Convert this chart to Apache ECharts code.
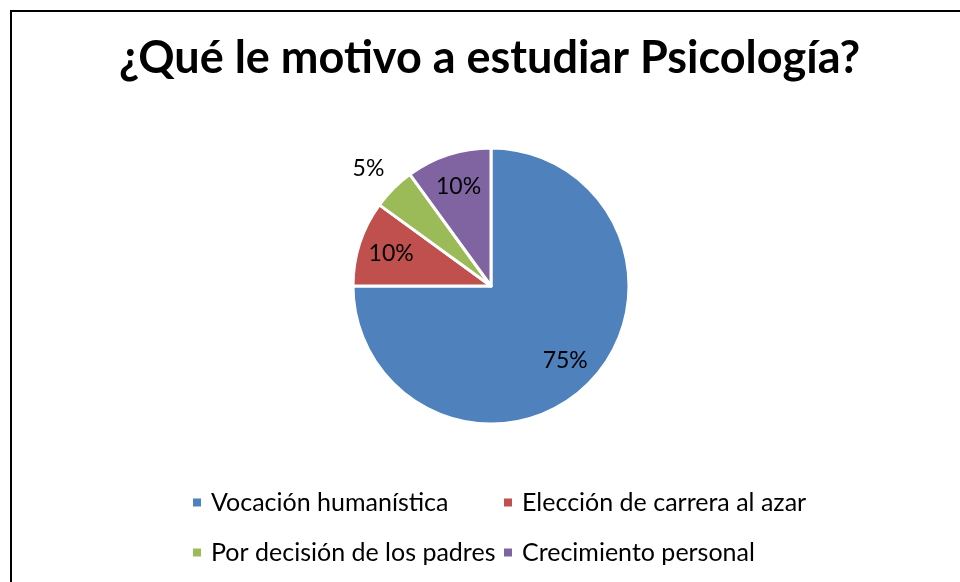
<!DOCTYPE html>
<html><head><meta charset="utf-8">
<script src="https://cdn.jsdelivr.net/npm/echarts@6/dist/echarts.min.js"></script>
<style>html,body{margin:0;padding:0;background:#fff}#c{width:960px;height:582px}</style>
</head><body><div id="c"></div>
<script>
const titleText = '¿Qué le motivo a estudiar Psicología?';
const categories = ['Vocación humanística','Elección de carrera al azar','Por decisión de los padres','Crecimiento personal'];
const values = [75, 10, 5, 10];
const colors = ['#4F81BD','#C0504D','#9BBB59','#8064A2'];
const outsideLabel = [false, false, true, false];

const chart = echarts.init(document.getElementById('c'));
const FONT = 'Lato';
const legendPos = [
  {left: 186, top: 485},
  {left: 497, top: 485},
  {left: 186, top: 535},
  {left: 497, top: 535}
];
const legends = categories.map((name, i) => ({
  left: legendPos[i].left, top: legendPos[i].top,
  data: [name], orient: 'horizontal',
  icon: 'rect', itemWidth: 10, itemHeight: 10, itemGap: 0,
  textStyle: {fontFamily: FONT, fontSize: 25, color: '#000', padding: [0, 0, 0, 4]},
  selectedMode: false
}));
chart.setOption({
  animation: false,
  title: {text: titleText, left: 114, top: 31,
    textStyle: {fontFamily: FONT, fontWeight: 'bold', fontSize: 45, color: '#000'}},
  legend: legends,
  graphic: [{type: 'rect', shape: {x: 11, y: 11, width: 1200, height: 1200},
    style: {fill: 'none', stroke: '#000', lineWidth: 2}, silent: true, z: 100}],
  series: [
    {
      type: 'pie', center: [491, 286], radius: [0, 138], startAngle: 90, clockwise: true,
      silent: true,
      itemStyle: {borderColor: '#fff', borderWidth: 3},
      data: categories.map((n, i) => ({
        name: n, value: values[i], itemStyle: {color: colors[i]},
        label: outsideLabel[i] ? {show: true, position: 'outside', formatter: '{t|{d}%}\n{e|}',
          distanceToLabelLine: 2,
          rich: {t: {fontFamily: FONT, fontSize: 23, color: '#000', lineHeight: 26},
                 e: {lineHeight: 26, fontSize: 2}}} : {show: false},
        labelLine: {show: false, length: 10, length2: 0}
      }))
    },
    {
      type: 'pie', center: [491, 286], radius: [0, 204], startAngle: 90, clockwise: true,
      silent: true, legendHoverLink: false,
      itemStyle: {color: 'rgba(0,0,0,0)', borderWidth: 0},
      label: {show: true, position: 'inside', formatter: '{d}%', fontFamily: FONT, fontSize: 23, color: '#000'},
      data: categories.map((n, i) => ({
        name: n, value: values[i],
        label: outsideLabel[i] ? {show: false} : undefined
      }))
    }
  ]
});
</script></body></html>
